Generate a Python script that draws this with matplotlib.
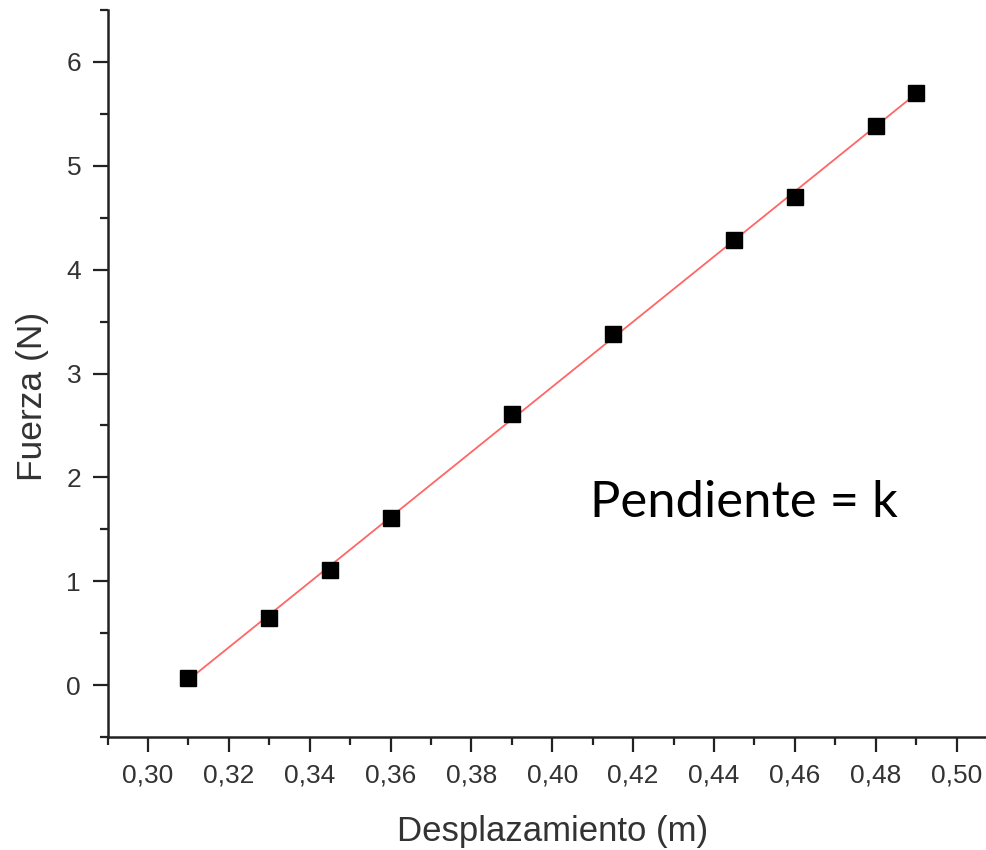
import numpy as np
import matplotlib
matplotlib.use("Agg")
import matplotlib.pyplot as plt
from matplotlib.ticker import MultipleLocator, FuncFormatter

# datos
desplazamiento = [0.31, 0.33, 0.345, 0.36, 0.39, 0.415, 0.445, 0.46, 0.48, 0.49]
fuerza = [0.07, 0.65, 1.11, 1.61, 2.61, 3.38, 4.29, 4.70, 5.38, 5.70]

x_label = "Desplazamiento (m)"
y_label = "Fuerza (N)"
nota = "Pendiente = k"

# ajuste lineal (la recta roja)
m, b = np.polyfit(desplazamiento, fuerza, 1)
x_fit = np.array([min(desplazamiento), max(desplazamiento)])

plt.rcParams['font.family'] = ['Liberation Sans', 'DejaVu Sans']

fig = plt.figure(figsize=(9.86, 8.5), dpi=100)
ax = fig.add_axes([107.5 / 986, 113 / 850, (997 - 107.5) / 986, (737 - 10) / 850])

ax.plot(x_fit, m * x_fit + b, color='#ff6666', lw=1.3, zorder=2)
ax.plot(desplazamiento, fuerza, 's', color='black', markersize=11, zorder=3)

ax.set_xlim(0.29, 0.51)
ax.set_ylim(-0.5, 6.5)

ax.xaxis.set_major_locator(MultipleLocator(0.02))
ax.xaxis.set_minor_locator(MultipleLocator(0.01))
ax.yaxis.set_major_locator(MultipleLocator(1))
ax.yaxis.set_minor_locator(MultipleLocator(0.5))
ax.xaxis.set_major_formatter(FuncFormatter(lambda v, p: f"{v:.2f}".replace('.', ',')))
ax.yaxis.set_major_formatter(FuncFormatter(lambda v, p: f"{v:.0f}"))

for s in ['top', 'right']:
    ax.spines[s].set_visible(False)
for s in ['left', 'bottom']:
    ax.spines[s].set_linewidth(1.8)
    ax.spines[s].set_color('#222222')

ax.tick_params(which='major', direction='out', length=11, width=1.6, color='#222222',
               labelsize=19, labelcolor='#333333', pad=8)
ax.tick_params(which='minor', direction='out', length=6, width=1.6, color='#222222')

ax.set_xlabel(x_label, fontsize=25, color='#333333', labelpad=20)
ax.set_ylabel(y_label, fontsize=25.5, color='#333333')
ax.yaxis.set_label_coords(-0.066, 0.468)

ax.text(0.4093, 1.62, nota, fontsize=36.5, family='Lato', color='black',
        ha='left', va='baseline')

fig.savefig("out.png", dpi=100)
